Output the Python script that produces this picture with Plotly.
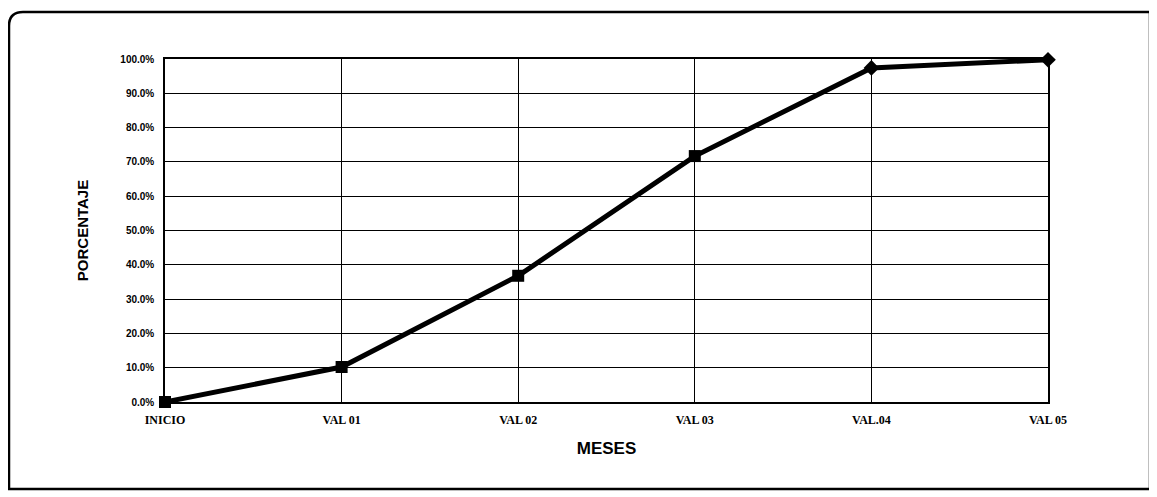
import plotly.graph_objects as go

categories = ["INICIO", "VAL 01", "VAL 02", "VAL 03", "VAL 04", "VAL 05"]
tick_labels = ["INICIO", "VAL 01", "VAL 02", "VAL 03", "VAL.04", "VAL 05"]
porcentaje = [0.0, 0.102, 0.368, 0.717, 0.974, 0.998]
marker_symbols = ["square", "square", "square", "square", "diamond", "diamond"]

# page body has an 8px margin, so the figure is drawn 8px smaller / offset
OFF = 8
W, H = 1157 - OFF, 497 - OFF
L, T = 165 - OFF, 59 - OFF
R = W - (1048 - OFF)
B = H - (402 - OFF)
pw, ph = W - L - R, H - T - B

def px(x):
    return (x - OFF - L) / pw

def py(y):
    return (H - B - (y - OFF)) / ph

fig = go.Figure()
fig.add_trace(go.Scatter(
    x=list(range(len(categories))), y=porcentaje, mode="lines+markers",
    line=dict(color="black", width=5),
    marker=dict(symbol=marker_symbols, size=12, color="black"),
    showlegend=False, cliponaxis=False,
))

# rounded frame
x0, y0, x1, y1, r = 9, 12, 1150, 489, 14
path = (f"M {px(x0+r)},{py(y0)} L {px(x1)},{py(y0)} L {px(x1)},{py(y1)} "
        f"L {px(x0)},{py(y1)} L {px(x0)},{py(y0+r)} "
        f"Q {px(x0)},{py(y0)} {px(x0+r)},{py(y0)}")
fig.add_shape(type="path", path=path, xref="paper", yref="paper",
              line=dict(color="black", width=2.5), layer="below")

fig.update_layout(
    width=W, height=H,
    margin=dict(l=L, r=R, t=T, b=B, pad=0),
    paper_bgcolor="white", plot_bgcolor="white",
    xaxis=dict(
        tickvals=list(range(len(categories))), ticktext=tick_labels,
        range=[0, len(categories) - 1],
        showgrid=True, gridcolor="black", gridwidth=1.2,
        showline=True, linecolor="black", linewidth=1.5, mirror=True,
        zeroline=False,
        tickfont=dict(family="Liberation Serif", size=12, color="black", weight="bold"),
        ticks="", ticklen=0, ticklabelstandoff=6,
        title=dict(text="<b>MESES</b>", font=dict(family="Liberation Sans", size=17, color="black"), standoff=16),
    ),
    yaxis=dict(
        range=[0, 1.0], dtick=0.1, tickformat=".1%",
        showgrid=True, gridcolor="black", gridwidth=1.2,
        showline=True, linecolor="black", linewidth=1.5, mirror=True,
        zeroline=False,
        tickfont=dict(family="Liberation Sans", size=10, color="black", weight="bold"),
        ticks="", ticklen=0, ticklabelstandoff=7,
        title=dict(text="<b>PORCENTAJE</b>", font=dict(family="Liberation Sans", size=15, color="black"), standoff=28),
    ),
)

fig.write_html("out.html")
